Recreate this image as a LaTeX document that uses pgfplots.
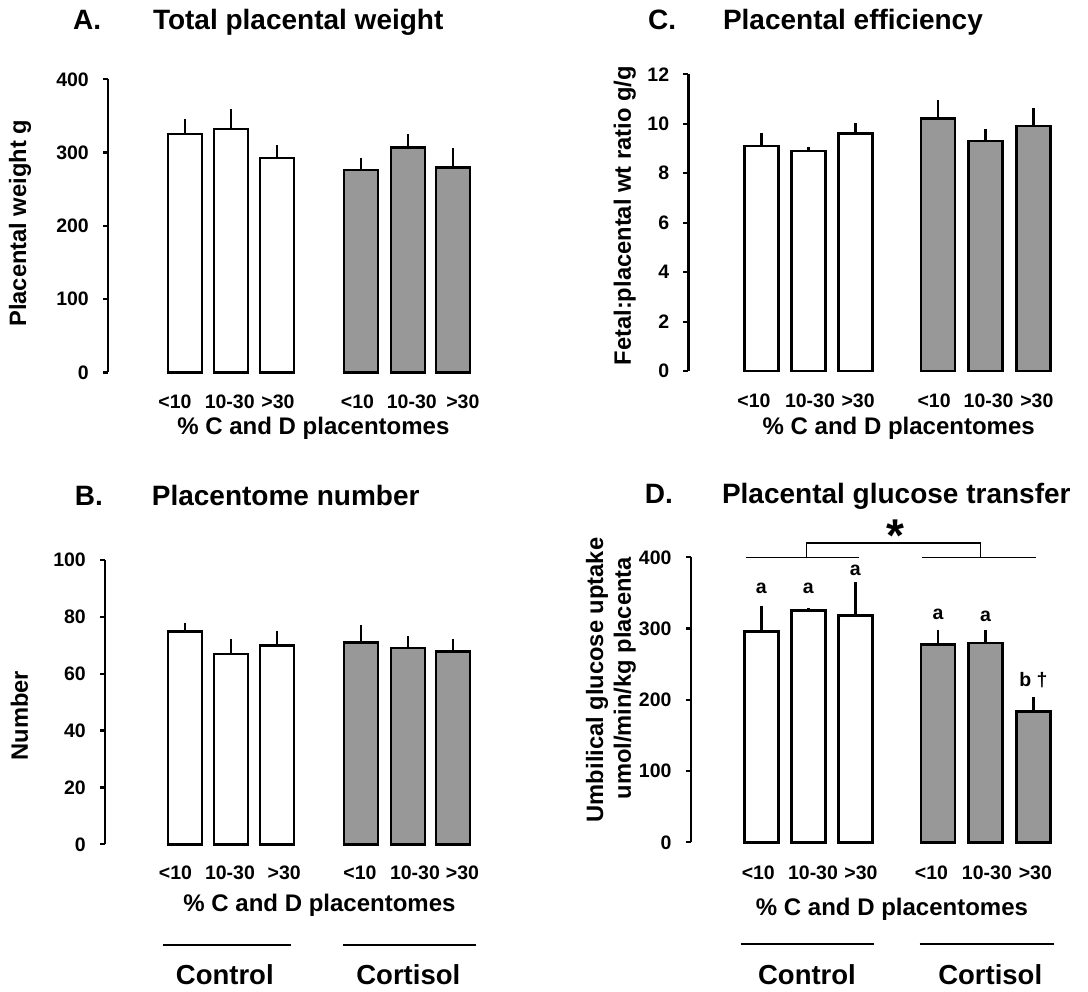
\documentclass[border=0pt]{standalone}
\usepackage{fontspec}
\setmainfont{Liberation Sans}
\usepackage{pgfplots}
\pgfplotsset{compat=1.18}
\definecolor{bargrey}{RGB}{152,152,152}

\pgfplotsset{
  panel/.style={
    scale only axis, clip=false, anchor=south west,
    axis x line*=bottom, axis y line*=left,
    x axis line style={draw=none},
    y axis line style={-, line width=2.4pt, black},
    xtick style={draw=none},
    ytick style={line width=2.2pt, black},
    ytick align=outside, major tick length=5pt,
    minor tick num=0, ymin=0,
    /pgf/number format/assume math mode=true,
    tick label style={font=\fontsize{19.5}{22}\selectfont\bfseries, inner sep=0pt},
    yticklabel style={anchor=east, xshift=-14pt},
    xticklabel style={anchor=base},
    xticklabels={{<10},{10-30},{>30},{<10},{10-30},{>30}},
  },
  whitebar/.style={ybar, bar shift=0pt, draw=black, fill=white, line width=2.6pt,
    error bars/.cd, y dir=plus, y explicit, error mark=none,
    error bar style={line width=2.4pt, black}},
  greybar/.style={ybar, bar shift=0pt, draw=black, fill=bargrey, line width=2.6pt,
    error bars/.cd, y dir=plus, y explicit, error mark=none,
    error bar style={line width=2.4pt, black}},
}

\begin{document}
\begin{tikzpicture}
\useasboundingbox (0,0) rectangle (1088pt,992pt);
\fill[white] (0,0) rectangle (1088pt,992pt);

% ---------------- A ----------------
\begin{axis}[panel, at={(108pt,619.5pt)}, width=372pt, height=293.2pt,
  xmin=-1.674, xmax=6.413, ymax=400, ytick={0,100,200,300,400},
  bar width=0.739,
  xtick={-0.217,0.972,2.02,3.75,4.93,6.04},
  xticklabel style={yshift=-35.7pt}]
\addplot[whitebar] table[x=x,y=y,y error=e]{
x y e
0 325.5 20.3
1 332.3 27.2
2 292.7 17.7
};
\addplot[greybar] table[x=x,y=y,y error=e]{
x y e
3.83 276.0 17.1
4.85 306.8 18.6
5.83 280.0 25.8
};
\end{axis}

% ---------------- B ----------------
\begin{axis}[panel, at={(105pt,147.7pt)}, width=375pt, height=284.3pt,
  xmin=-1.739, xmax=6.413, ymax=100, ytick={0,20,40,60,80,100},
  bar width=0.739,
  xtick={-0.207,0.978,2.157,3.804,5.0,6.033},
  xticklabel style={yshift=-35.7pt}]
\addplot[whitebar] table[x=x,y=y,y error=e]{
x y e
0 74.8 3.1
1 67.0 5.1
2 70.0 5.1
};
\addplot[greybar] table[x=x,y=y,y error=e]{
x y e
3.83 71.0 6.1
4.85 69.0 4.2
5.83 67.9 4.3
};
\end{axis}

% ---------------- C ----------------
\begin{axis}[panel, at={(688.3pt,620.8pt)}, width=371.7pt, height=296.9pt,
  xmin=-1.553, xmax=6.355, ymax=12, ytick={0,2,4,6,8,10,12},
  bar width=0.723,
  xtick={-0.155,1.036,2.06,3.677,4.836,5.862},
  xticklabel style={yshift=-36.3pt}]
\addplot[whitebar] table[x=x,y=y,y error=e]{
x y e
0 9.10 0.51
1 8.90 0.17
2 9.61 0.41
};
\addplot[greybar] table[x=x,y=y,y error=e]{
x y e
3.76 10.22 0.74
4.77 9.30 0.47
5.79 9.91 0.73
};
\end{axis}

% ---------------- D ----------------
\begin{axis}[panel, at={(690.7pt,149.7pt)}, width=369.3pt, height=285pt,
  xmin=-1.502, xmax=6.355, ymax=400, ytick={0,100,200,300,400},
  bar width=0.723,
  xtick={-0.064,1.1,2.12,3.62,4.80,5.83},
  xticklabel style={yshift=-37.7pt}]
\addplot[whitebar] table[x=x,y=y,y error=e]{
x y e
0 295.7 36.3
1 325.2 3.8
2 318.2 46.8
};
\addplot[greybar] table[x=x,y=y,y error=e]{
x y e
3.76 277.2 20.8
4.77 279.8 18.2
5.79 183.2 20.8
};
\draw[line width=1.1pt] (axis cs:-0.326,400) -- (axis cs:2.085,400);
\draw[line width=1.1pt] (axis cs:3.415,400) -- (axis cs:5.853,400);
\draw[line width=1.1pt] (axis cs:0.968,400) -- (axis cs:0.968,420) -- (axis cs:4.67,420) -- (axis cs:4.67,400);
\node[font=\fontsize{46}{46}\selectfont\bfseries, anchor=base, inner sep=0pt] at (axis cs:2.86,408.8) {*};
\begin{scope}[every node/.style={font=\fontsize{19.5}{22}\selectfont\bfseries, anchor=base, inner sep=0pt}]
\node at (axis cs:0,349.5) {a};
\node at (axis cs:1,349.5) {a};
\node at (axis cs:2,373.8) {a};
\node at (axis cs:3.76,313) {a};
\node at (axis cs:4.77,309.6) {a};
\node at (axis cs:5.79,218.5) {b \dag};
\end{scope}
\end{axis}

% ---------------- titles and labels ----------------
\begin{scope}[every node/.style={inner sep=0pt}]
\node[anchor=base west, font=\fontsize{28}{32}\selectfont\bfseries] at (73pt,962pt) {A.};
\node[anchor=base west, font=\fontsize{28}{32}\selectfont\bfseries] at (152.8pt,962pt) {Total placental weight};
\node[anchor=base west, font=\fontsize{28}{32}\selectfont\bfseries] at (648pt,962.7pt) {C.};
\node[anchor=base west, font=\fontsize{28}{32}\selectfont\bfseries] at (722.8pt,962.7pt) {Placental efficiency};
\node[anchor=base west, font=\fontsize{28}{32}\selectfont\bfseries] at (74.7pt,486pt) {B.};
\node[anchor=base west, font=\fontsize{28}{32}\selectfont\bfseries] at (151.7pt,486pt) {Placentome number};
\node[anchor=base west, font=\fontsize{28}{32}\selectfont\bfseries] at (644.7pt,488.7pt) {D.};
\node[anchor=base west, font=\fontsize{28}{32}\selectfont\bfseries] at (721.8pt,488.7pt) {Placental glucose transfer};

\node[rotate=90, anchor=base, font=\fontsize{23.7}{28}\selectfont\bfseries] at (26pt,768.7pt) {Placental weight g};
\node[rotate=90, anchor=base, font=\fontsize{23.7}{28}\selectfont\bfseries] at (27.8pt,276.2pt) {Number};
\node[rotate=90, anchor=base, font=\fontsize{23.7}{28}\selectfont\bfseries] at (630.8pt,776.2pt) {Fetal:placental wt ratio g/g};
\node[rotate=90, anchor=base, font=\fontsize{23.7}{28}\selectfont\bfseries] at (603pt,312pt) {Umbilical glucose uptake};
\node[rotate=90, anchor=base, font=\fontsize{23.7}{28}\selectfont\bfseries] at (630.8pt,313.7pt) {umol/min/kg placenta};

\node[anchor=base, font=\fontsize{24}{28}\selectfont\bfseries] at (313.4pt,557pt) {\% C and D placentomes};
\node[anchor=base, font=\fontsize{24}{28}\selectfont\bfseries] at (319.5pt,80.3pt) {\% C and D placentomes};
\node[anchor=base, font=\fontsize{24}{28}\selectfont\bfseries] at (898.7pt,557pt) {\% C and D placentomes};
\node[anchor=base, font=\fontsize{24}{28}\selectfont\bfseries] at (892pt,76.3pt) {\% C and D placentomes};

\draw[line width=2.2pt] (162.5pt,47pt) -- (291pt,47pt);
\draw[line width=2.2pt] (343pt,47pt) -- (476.4pt,47pt);
\draw[line width=2.2pt] (740.9pt,48pt) -- (873.9pt,48pt);
\draw[line width=2.2pt] (919.7pt,48pt) -- (1054.4pt,48pt);
\node[anchor=base, font=\fontsize{27.5}{32}\selectfont\bfseries] at (224.8pt,7pt) {Control};
\node[anchor=base, font=\fontsize{27.5}{32}\selectfont\bfseries] at (408.3pt,7pt) {Cortisol};
\node[anchor=base, font=\fontsize{27.5}{32}\selectfont\bfseries] at (807pt,7pt) {Control};
\node[anchor=base, font=\fontsize{27.5}{32}\selectfont\bfseries] at (990.2pt,7pt) {Cortisol};
\end{scope}
\end{tikzpicture}
\end{document}
